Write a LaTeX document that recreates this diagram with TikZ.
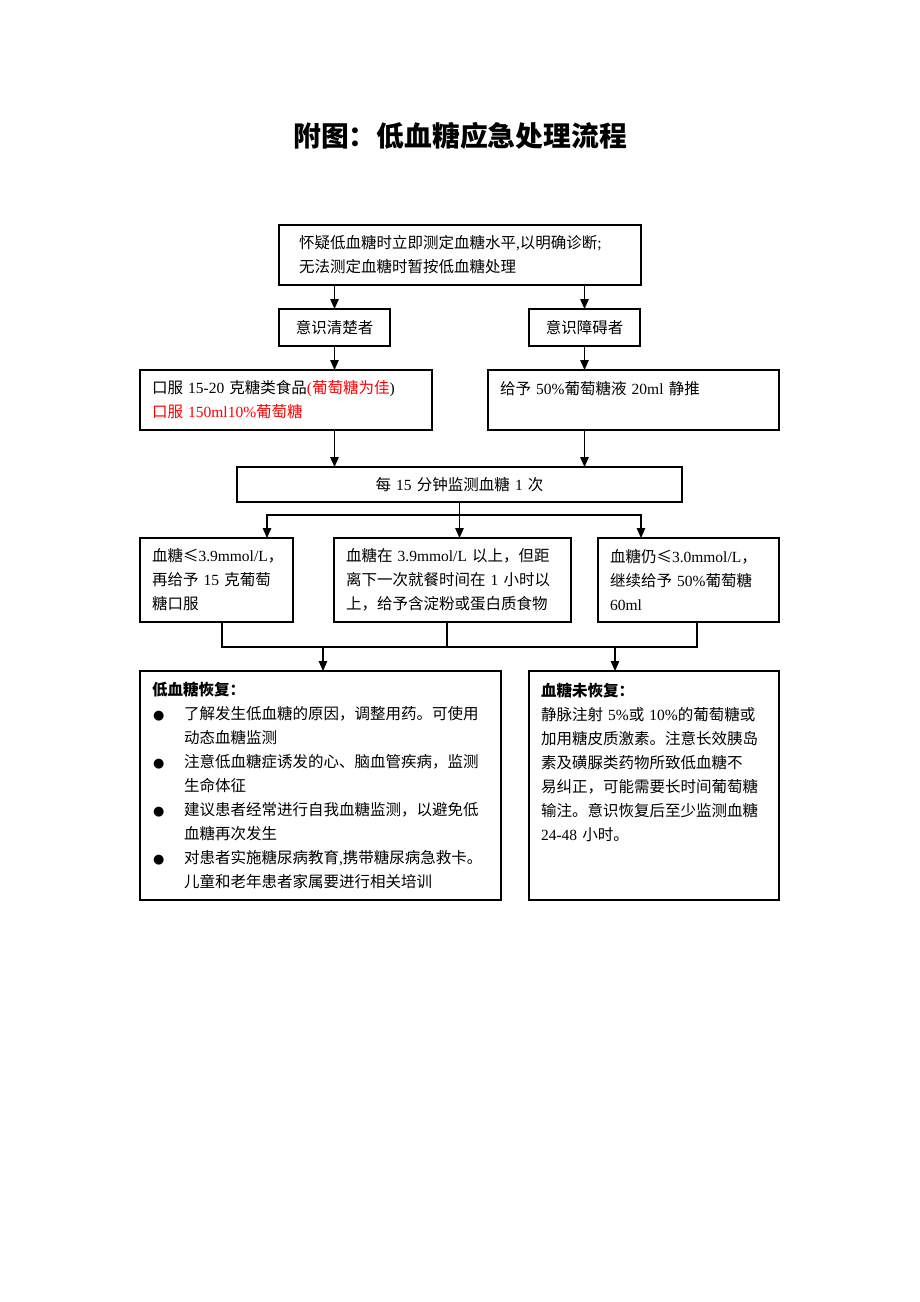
\documentclass[tikz,border=0pt]{standalone}
\usepackage{fontspec}
\usepackage{xcolor}
\setmainfont{Noto Sans CJK SC}
\newfontfamily\latin{Liberation Serif}
\newfontfamily\symb{DejaVu Sans}
\usetikzlibrary{arrows.meta}

\newcommand\tm[1]{{\latin #1}}
\newcommand\body{\fontsize{15.5}{24}\selectfont}
\newcommand\bul{\makebox[32pt][l]{\hspace{1pt}{\symb\fontsize{13}{13}\selectfont ●}}}
\newcommand\ind{\hspace*{32pt}}

\begin{document}
\begin{tikzpicture}[x=1pt, y=-1pt, line width=1.3pt, >={Triangle[length=10pt,width=8.5pt]},
    box/.style={draw, anchor=north west, outer sep=0pt, inner xsep=12pt, inner ysep=0pt, align=left, font=\body},
    title/.style={font=\fontsize{27.8}{30}\selectfont\bfseries}]
    \path[fill=white,use as bounding box] (0,0) rectangle (920,1302);

    \node[title] (ttl) at (460,136) {附图：低血糖应急处理流程};

    \node[box, inner xsep=20pt, text width=322pt, minimum height=60pt] (check) at (279,225)
        {怀疑低血糖时立即测定血糖水平\tm{,}以明确诊断\tm{;}\\无法测定血糖时暂按低血糖处理};
    \node[box, align=center, text width=87pt, minimum height=37pt] (clear) at (279,309) {意识清楚者};
    \node[box, align=center, text width=87pt, minimum height=37pt] (coma) at (529,309) {意识障碍者};
    \node[box, text width=268pt, minimum height=60pt] (oral) at (140,370)
        {口服~\tm{15-20}~克糖类食品{\color{red}\tm{(}葡萄糖为佳}\tm{)}\\{\color{red}口服~\tm{150ml10\%}葡萄糖}};
    \node[box, text width=267pt, minimum height=60pt] (iv) at (488,370)
        {给予~\tm{50\%}葡萄糖液~\tm{20ml}~静推\\\mbox{}};
    \node[box, align=center, text width=421pt, minimum height=35pt] (watch) at (237,467)
        {每~\tm{15}~分钟监测血糖~\tm{1}~次};

    \node[box, text width=129pt, minimum height=84pt] (low) at (140,538)
        {血糖≤\tm{3.9mmol/L}，\\再给予~\tm{15}~克葡萄\\糖口服};
    \node[box, text width=213pt, minimum height=84pt] (ok) at (334,538)
        {血糖在~\tm{3.9mmol/L}~以上，但距\\离下一次就餐时间在~\tm{1}~小时以\\上，给予含淀粉或蛋白质食物};
    \node[box, text width=157pt, minimum height=84pt] (still) at (598,538)
        {血糖仍≤\tm{3.0mmol/L}，\\继续给予~\tm{50\%}葡萄糖\\\tm{60ml}};

    \node[box, text width=337pt, minimum height=229pt] (done) at (140,671)
        {{\bfseries 低血糖恢复：}\\
         \bul 了解发生低血糖的原因，调整用药。可使用\\
         \ind 动态血糖监测\\
         \bul 注意低血糖症诱发的心、脑血管疾病，监测\\
         \ind 生命体征\\
         \bul 建议患者经常进行自我血糖监测，以避免低\\
         \ind 血糖再次发生\\
         \bul 对患者实施糖尿病教育\tm{,}携带糖尿病急救卡。\\
         \ind 儿童和老年患者家属要进行相关培训};
    \node[box, text width=226pt, minimum height=229pt] (notyet) at (529,671)
        {{\bfseries 血糖未恢复：}\\
         静脉注射~\tm{5\%}或~\tm{10\%}的葡萄糖或\\
         加用糖皮质激素。注意长效胰岛\\
         素及磺脲类药物所致低血糖不\\
         易纠正，可能需要长时间葡萄糖\\
         输注。意识恢复后至少监测血糖\\
         \tm{24-48}~小时。\\\mbox{}\\\mbox{}};

    % upper part
    \draw[->] (check.south -| clear.north) -- (clear.north);
    \draw[->] (check.south -| coma.north) -- (coma.north);
    \draw[->] (clear.south) -- (clear.south |- oral.north);
    \draw[->] (coma.south) -- (coma.south |- iv.north);
    \draw[->] (oral.south -| clear.south) -- (watch.north -| clear.south);
    \draw[->] (iv.south -| coma.south) -- (watch.north -| coma.south);

    % fork to the three checks
    \coordinate (lowin) at (267,538);
    \coordinate (stillin) at (641,538);
    \draw (watch.south) -- ++(0,13) coordinate (fork);
    \draw[->] (fork) -| (lowin);
    \draw[->] (fork) -| (stillin);
    \draw[->] (fork) -- (fork |- ok.north);

    % join to the two outcomes
    \coordinate (lowout) at (222,622);
    \coordinate (okout) at (447,622);
    \coordinate (stillout) at (697,622);
    \coordinate (join) at (447,647);
    \coordinate (donein) at (323,671);
    \coordinate (notyetin) at (615,671);
    \draw (lowout) |- (join) -| (stillout);
    \draw (okout) -- (join);
    \draw[->] (join -| donein) -- (donein);
    \draw[->] (join -| notyetin) -- (notyetin);
\end{tikzpicture}
\end{document}
